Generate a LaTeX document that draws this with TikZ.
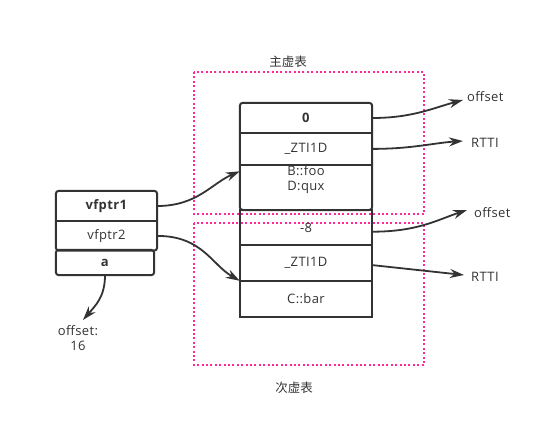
\documentclass[tikz,border=0pt]{standalone}
\usepackage{fontspec}
\setmainfont{Open Sans}[LetterSpace=3]
\newfontfamily\cjk{Noto Sans CJK SC}
\usetikzlibrary{positioning,arrows.meta}
\definecolor{ink}{RGB}{51,51,51}
\definecolor{vtpink}{RGB}{255,40,150}
\begin{document}
\begin{tikzpicture}[x=1pt,y=-1pt,
  vtcell/.style={minimum width=132pt, minimum height=#1, inner sep=0pt, text=ink},
  objcell/.style={minimum width=101pt, minimum height=#1, inner sep=0pt, text=ink},
  vtbox/.style={draw=vtpink, line width=2pt, dash pattern=on 2pt off 2.4pt},
  frame/.style={draw=ink, line width=2pt},
  ptr/.style={draw=ink, line width=1.8pt, -{Stealth[length=14pt,width=9pt]}},
  lbl/.style={text=ink, inner sep=0pt},
  font=\fontsize{13}{15}\selectfont]
  \useasboundingbox (0,0) rectangle (556,436);
  % dotted frames round the two tables
  \draw[vtbox] (194,72) rectangle (424,214);
  \draw[vtbox] (194,223) rectangle (424,365);
  \node[lbl, font=\fontsize{12.5}{15}\cjk] (maintitle) at (288,62) {主虚表};
  \node[lbl, font=\fontsize{12.5}{15}\cjk] (subtitle) at (294,388) {次虚表};
  % main table
  \node[vtcell=30pt] (off1) at (306,118) {\textbf{0}};
  \node[vtcell=31pt, below=0pt of off1] (rtti1) {\_ZTI1D};
  \node[vtcell=45pt, below=0pt of rtti1] (fun1) {};
  \node[lbl, align=left, below=1pt of fun1.north] (funtxt1) {B::foo\\D:qux};
  \draw[frame, rounded corners=3pt] (off1.north west) rectangle (fun1.south east);
  \draw[frame] (rtti1.north west) -- (rtti1.north east);
  \draw[frame] (fun1.north west) -- (fun1.north east);
  % sub table
  \node[vtcell=35pt, below=0pt of fun1] (off2) {-8};
  \node[vtcell=35pt, below=0pt of off2] (rtti2) {\_ZTI1D};
  \node[vtcell=36pt, below=0pt of rtti2] (fun2) {C::bar};
  \draw[frame] (off2.north west) rectangle (fun2.south east);
  \draw[frame] (rtti2.north west) -- (rtti2.north east);
  \draw[frame] (fun2.north west) -- (fun2.north east);
  % object
  \node[objcell=30pt] (vf1) at (106.5,206) {\textbf{vfptr1}};
  \node[objcell=29pt, below=0pt of vf1] (vf2) {vfptr2};
  \node[minimum width=98pt, minimum height=25pt, inner sep=0pt, text=ink] (mem) at (105,262.5) {\textbf{a}};
  \draw[frame, rounded corners=3pt] (vf1.north west) rectangle (vf2.south east);
  \draw[frame] (vf2.north west) -- (vf2.north east);
  \draw[frame, rounded corners=3pt] (mem.north west) rectangle (mem.south east);
  % labels on the right
  \node[lbl, anchor=west] (o1) at (467,97) {offset};
  \node[lbl, anchor=west] (r1) at (471,143) {RTTI};
  \node[lbl, anchor=west] (o2) at (474,213) {offset};
  \node[lbl, anchor=west] (r2) at (471,277) {RTTI};
  \node[lbl, align=center, anchor=north] (moff) at (78,325) {offset:\\16};
  % pointers
  \draw[ptr] (vf1.east) .. controls +(40,0) and +(-28,12) .. ([yshift=16pt]fun1.west);
  \draw[ptr] (vf2.east) .. controls +(45,0) and +(-28,-16) .. (fun2.north west);
  \draw[ptr] (off1.east) .. controls +(40,0) and +(-30,8) .. ([xshift=-4pt,yshift=-3pt]o1.west);
  \draw[ptr] (rtti1.east) .. controls +(40,0) and +(-30,2) .. ([xshift=-8pt,yshift=2pt]r1.west);
  \draw[ptr] ([yshift=-4pt]off2.east) .. controls +(45,0) and +(-30,10) .. ([xshift=-7pt,yshift=3pt]o2.west);
  \draw[ptr] ([yshift=-2pt]rtti2.east) -- ([xshift=-7pt,yshift=2pt]r2.west);
  \draw[ptr] (mem.south) .. controls +(0,22) and +(12,-14) .. ([xshift=5pt,yshift=5pt]moff.north);
\end{tikzpicture}
\end{document}
